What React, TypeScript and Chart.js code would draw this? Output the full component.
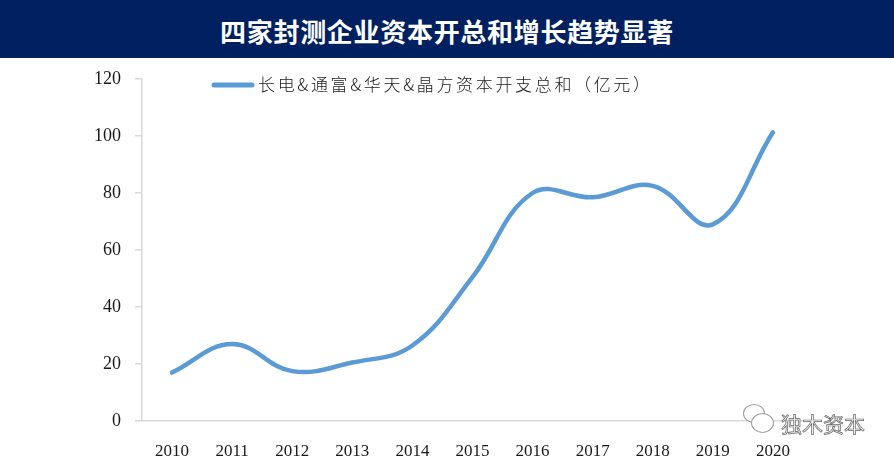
import React, { useEffect, useRef } from "react";
import { Chart, registerables } from "chart.js";

Chart.register(...registerables);

const titleText = "四家封测企业资本开总和增长趋势显著";
const seriesLabel = "长电&通富&华天&晶方资本开支总和（亿元）";
const categories = ["2010", "2011", "2012", "2013", "2014", "2015", "2016", "2017", "2018", "2019", "2020"];
const capexTotal = [17, 27, 17.5, 20.5, 26.5, 50.5, 80, 78.5, 82.5, 69, 101.3];
const yMin = 0;
const yMax = 120;
const yStep = 20;

const LINE_COLOR = "#5B9BD5";
const AXIS_COLOR = "#d9d9d9";

const legendPlugin = {
  id: "insetLegend",
  afterDraw(chart: any) {
    const ctx = chart.ctx as CanvasRenderingContext2D;
    const label = chart.data.datasets[0].label as string;
    const y = 27;
    ctx.save();
    ctx.strokeStyle = LINE_COLOR;
    ctx.lineWidth = 5;
    ctx.lineCap = "round";
    ctx.beginPath();
    ctx.moveTo(214, y);
    ctx.lineTo(252, y);
    ctx.stroke();
    ctx.fillStyle = "#1a1a1a";
    ctx.font = '300 17px "Noto Sans CJK SC"';
    ctx.textBaseline = "middle";
    ctx.textAlign = "left";
    const target = 392;
    const measured = ctx.measureText(label).width;
    const chars = Array.from(label);
    const extra = (target - measured) / Math.max(1, chars.length - 1);
    let x = 258;
    for (const ch of chars) {
      ctx.fillText(ch, x, y);
      x += ctx.measureText(ch).width + extra;
    }
    ctx.restore();
  },
};

export default function App() {
  const canvasRef = useRef<HTMLCanvasElement | null>(null);

  useEffect(() => {
    if (!canvasRef.current) return;
    const chart = new Chart(canvasRef.current, {
      type: "line",
      data: {
        labels: categories,
        datasets: [
          {
            label: seriesLabel,
            data: capexTotal,
            borderColor: LINE_COLOR,
            backgroundColor: LINE_COLOR,
            borderWidth: 4.5,
            borderCapStyle: "round",
            borderJoinStyle: "round",
            pointRadius: 0,
            pointHoverRadius: 0,
            tension: 0.4,
            fill: false,
          },
        ],
      },
      options: {
        animation: false,
        responsive: true,
        maintainAspectRatio: false,
        layout: { padding: { top: 21, right: 91, bottom: 0, left: 0 } },
        plugins: {
          legend: { display: false },
          tooltip: { enabled: false },
          title: { display: false },
        },
        scales: {
          x: {
            type: "category",
            offset: true,
            grid: { display: false },
            border: { display: true, color: AXIS_COLOR, width: 1.5 },
            ticks: {
              color: "#1a1a1a",
              font: { family: '"Liberation Serif", "Times New Roman", serif', size: 17 },
              padding: 12,
              maxRotation: 0,
              autoSkip: false,
            },
            afterFit(scale: any) {
              scale.height = 45;
            },
          },
          y: {
            min: yMin,
            max: yMax,
            grid: {
              display: true,
              drawOnChartArea: false,
              drawTicks: true,
              tickLength: 7,
              color: AXIS_COLOR,
              lineWidth: 1.5,
            },
            border: { display: true, color: AXIS_COLOR, width: 1.5 },
            ticks: {
              stepSize: yStep,
              color: "#1a1a1a",
              font: { family: '"Liberation Serif", "Times New Roman", serif', size: 18 },
              padding: 14,
            },
            afterFit(scale: any) {
              scale.width = 142;
              scale.paddingTop = 0;
              scale.paddingBottom = 0;
            },
          },
        },
      },
      plugins: [legendPlugin],
    });
    return () => chart.destroy();
  }, []);

  return (
    <div
      style={{
        position: "absolute",
        left: 0,
        top: 0,
        width: 894,
        height: 466,
        background: "#ffffff",
        overflow: "hidden",
      }}
    >
      <div
        style={{
          position: "absolute",
          left: 0,
          top: 0,
          width: 894,
          height: 58,
          background: "#002060",
          color: "#ffffff",
          fontFamily: '"Noto Sans CJK SC", sans-serif',
          fontWeight: 700,
          fontSize: 26,
          letterSpacing: 0.7,
          lineHeight: "58px",
          textAlign: "center",
          paddingTop: 2,
          boxSizing: "border-box",
        }}
      >
        {titleText}
      </div>
      <div style={{ position: "absolute", left: 0, top: 58, width: 894, height: 408 }}>
        <canvas ref={canvasRef} />
      </div>
      <div
        style={{
          position: "absolute",
          left: 743,
          top: 404,
          width: 20,
          height: 17,
          borderRadius: "50%",
          border: "1px solid #9a9a9a",
          background: "#ffffff",
        }}
      />
      <div
        style={{
          position: "absolute",
          left: 751,
          top: 413,
          width: 21,
          height: 18,
          borderRadius: "50%",
          border: "1px solid #9a9a9a",
          background: "#ffffff",
        }}
      />
      <div
        style={{
          position: "absolute",
          left: 781,
          top: 409,
          fontFamily: '"Noto Sans CJK SC", sans-serif',
          fontSize: 21,
          lineHeight: "28px",
          color: "#f2f2f2",
          WebkitTextStroke: "0.7px #666666",
          whiteSpace: "nowrap",
        }}
      >
        独木资本
      </div>
    </div>
  );
}
